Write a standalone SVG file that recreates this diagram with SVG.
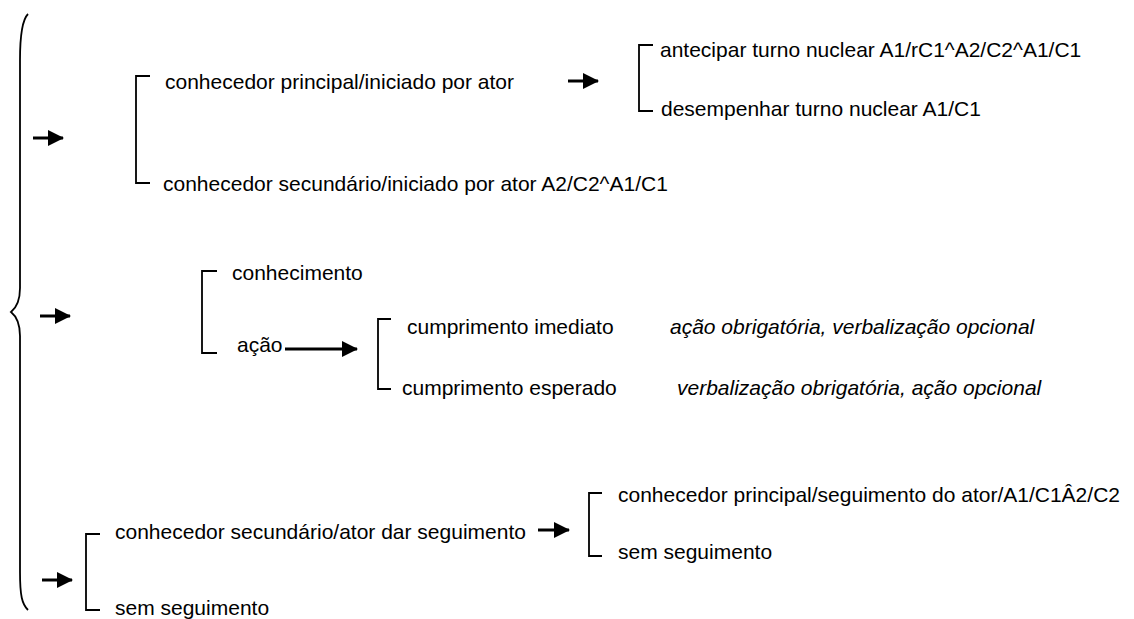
<svg xmlns="http://www.w3.org/2000/svg" width="1134" height="619" viewBox="0 0 1134 619">
<defs>
<style>
text{font-family:"Liberation Sans",Arial,sans-serif;font-size:21px;fill:#000}
.it{font-style:italic}
.br{fill:none;stroke:#000;stroke-width:1.8}
.ar{fill:none;stroke:#000;stroke-width:3}
</style>
<marker id="ah" markerUnits="userSpaceOnUse" markerWidth="16" markerHeight="16" refX="15" refY="8" orient="auto" viewBox="0 0 16 16">
<path d="M0,0 L16,8 L0,16 z" fill="#000"/>
</marker>
</defs>
<rect width="1134" height="619" fill="#fff"/>
<g id="brace">
<path class="br" d="M28,14 C22,20 20,35 20,60 L20,288 C20,302 16,308 11,312 C16,316 20,322 20,336 L20,572 C20,596 22,604 28,610"/>
</g>
<g id="connectors">
<line class="ar" x1="33" y1="138" x2="63" y2="138" marker-end="url(#ah)"/>
<line class="ar" x1="40" y1="316" x2="70" y2="316" marker-end="url(#ah)"/>
<line class="ar" x1="42" y1="580" x2="72" y2="580" marker-end="url(#ah)"/>
<line class="ar" x1="568" y1="81" x2="598" y2="81" marker-end="url(#ah)"/>
<line class="ar" x1="285" y1="349" x2="357" y2="349" marker-end="url(#ah)"/>
<line class="ar" x1="538" y1="530" x2="569" y2="530" marker-end="url(#ah)"/>
</g>
<g id="n1">
<path class="br" d="M150,76 H136 V183 H150"/>
<text x="165" y="89">conhecedor principal/iniciado por ator</text>
<text x="163" y="191">conhecedor secundário/iniciado por ator A2/C2^A1/C1</text>
</g>
<g id="n2">
<path class="br" d="M653,45 H639 V111 H653"/>
<text x="660" y="57">antecipar turno nuclear A1/rC1^A2/C2^A1/C1</text>
<text x="661" y="116">desempenhar turno nuclear A1/C1</text>
</g>
<g id="n3">
<path class="br" d="M217,271 H202 V353 H217"/>
<text x="232" y="280">conhecimento</text>
<text x="237" y="352">ação</text>
</g>
<g id="n4">
<path class="br" d="M391,319 H378 V389 H391"/>
<text x="407" y="334">cumprimento imediato</text>
<text x="402" y="395">cumprimento esperado</text>
<text class="it" x="670" y="334">ação obrigatória, verbalização opcional</text>
<text class="it" x="677" y="395">verbalização obrigatória, ação opcional</text>
</g>
<g id="n5">
<path class="br" d="M100,534 H86 V610 H100"/>
<text x="115" y="539">conhecedor secundário/ator dar seguimento</text>
<text x="115" y="615">sem seguimento</text>
</g>
<g id="n6">
<path class="br" d="M602,493 H589 V556 H602"/>
<text x="618" y="502">conhecedor principal/seguimento do ator/A1/C1Â2/C2</text>
<text x="618" y="559">sem seguimento</text>
</g>
</svg>
